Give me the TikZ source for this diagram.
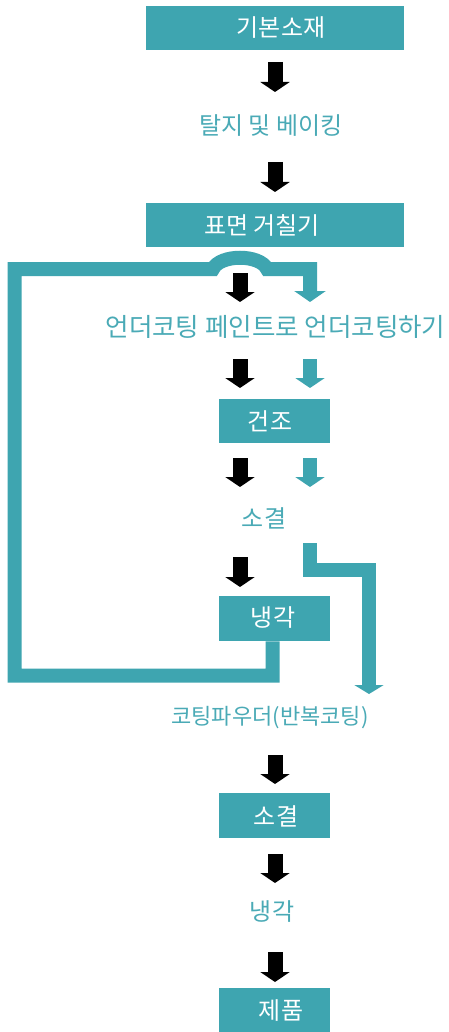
\documentclass[tikz,border=0pt]{standalone}
\usepackage{fontspec}
\newfontfamily\kr{Noto Sans CJK KR}
\usetikzlibrary{arrows.meta}
\definecolor{tealbox}{RGB}{62,165,176}
\definecolor{tealtxt}{RGB}{74,170,182}
\tikzset{
  box/.style={fill=tealbox, draw=none, inner sep=0pt, anchor=north west},
  wtxt/.style={text=white, font=\kr\fontsize{24}{28}\selectfont, inner sep=0pt},
  ttxt/.style={text=tealtxt, font=\kr\fontsize{24}{28}\selectfont, inner sep=0pt},
  barrow/.style={draw=black, line width=15pt, -{Triangle[width=29pt,length=10pt]}},
  tarrow/.style={draw=tealbox, line width=14pt, -{Triangle[width=29pt,length=10pt]}},
  pipe/.style={draw=tealbox, line width=14pt, line join=miter}
}
\begin{document}
\begin{tikzpicture}[x=1pt,y=-1pt]
\useasboundingbox[fill=white] (0,0) rectangle (448,1032);
% boxes
\node[box, minimum width=258pt, minimum height=44pt] (b1) at (146,6) {};
\node[box, minimum width=258pt, minimum height=44pt] (b2) at (146,203) {};
\node[box, minimum width=111pt, minimum height=44pt] (b3) at (219,399) {};
\node[box, minimum width=111pt, minimum height=45pt] (b4) at (219,596) {};
\node[box, minimum width=111pt, minimum height=45pt] (b5) at (219,793) {};
\node[box, minimum width=111pt, minimum height=44pt] (b6) at (219,988) {};
% texts
\node[wtxt] (t1) at (281,28) {기본소재};
\node[ttxt] (t2) at (271,126) {탈지 및 베이킹};
\node[wtxt] (t3) at (262,225) {표면 거칠기};
\node[ttxt, font=\kr\fontsize{25.5}{28}\selectfont] (t4) at (275.5,327) {언더코팅 페인트로 언더코팅하기};
\node[wtxt] (t5) at (270,421) {건조};
\node[ttxt] (t6) at (264,518) {소결};
\node[wtxt] (t7) at (273,618) {냉각};
\node[ttxt, font=\kr\fontsize{22}{26}\selectfont] (t8) at (270,718) {코팅파우더(반복코팅)};
\node[wtxt] (t9) at (276,816) {소결};
\node[ttxt] (t10) at (272,912) {냉각};
\node[wtxt] (t11) at (281,1010) {제품};
% black arrows
\draw[barrow] (275,62) -- (275,92);
\draw[barrow] (275,162) -- (275,192);
\draw[barrow] (240,273) -- (240,302);
\draw[barrow] (240,359) -- (240,388);
\draw[barrow] (240,458) -- (240,487);
\draw[barrow] (240,557) -- (240,587);
\draw[barrow] (275,755) -- (275,784);
\draw[barrow] (275,854) -- (275,883);
\draw[barrow] (275,952) -- (275,982);
% teal arrows
\draw[tarrow] (310,359) -- (310,388);
\draw[tarrow] (310,458) -- (310,487);
% loop pipe from cooling box
\draw[pipe, -{Triangle[width=31pt,length=11pt]}]
  (b4.south -| 272.5,0) -- (272.5,675.5) -- (14.5,675.5) -- (14.5,269) -- (213,269)
  .. controls (220,254) and (260,254) .. (267,269) -- (310,269) -- (310,302);
% pipe from sintering to powder coating
\draw[pipe, -{Triangle[width=29pt,length=9pt]}]
  (310,543) -- (310,570) -- (369,570) -- (369,694);
\end{tikzpicture}
\end{document}
